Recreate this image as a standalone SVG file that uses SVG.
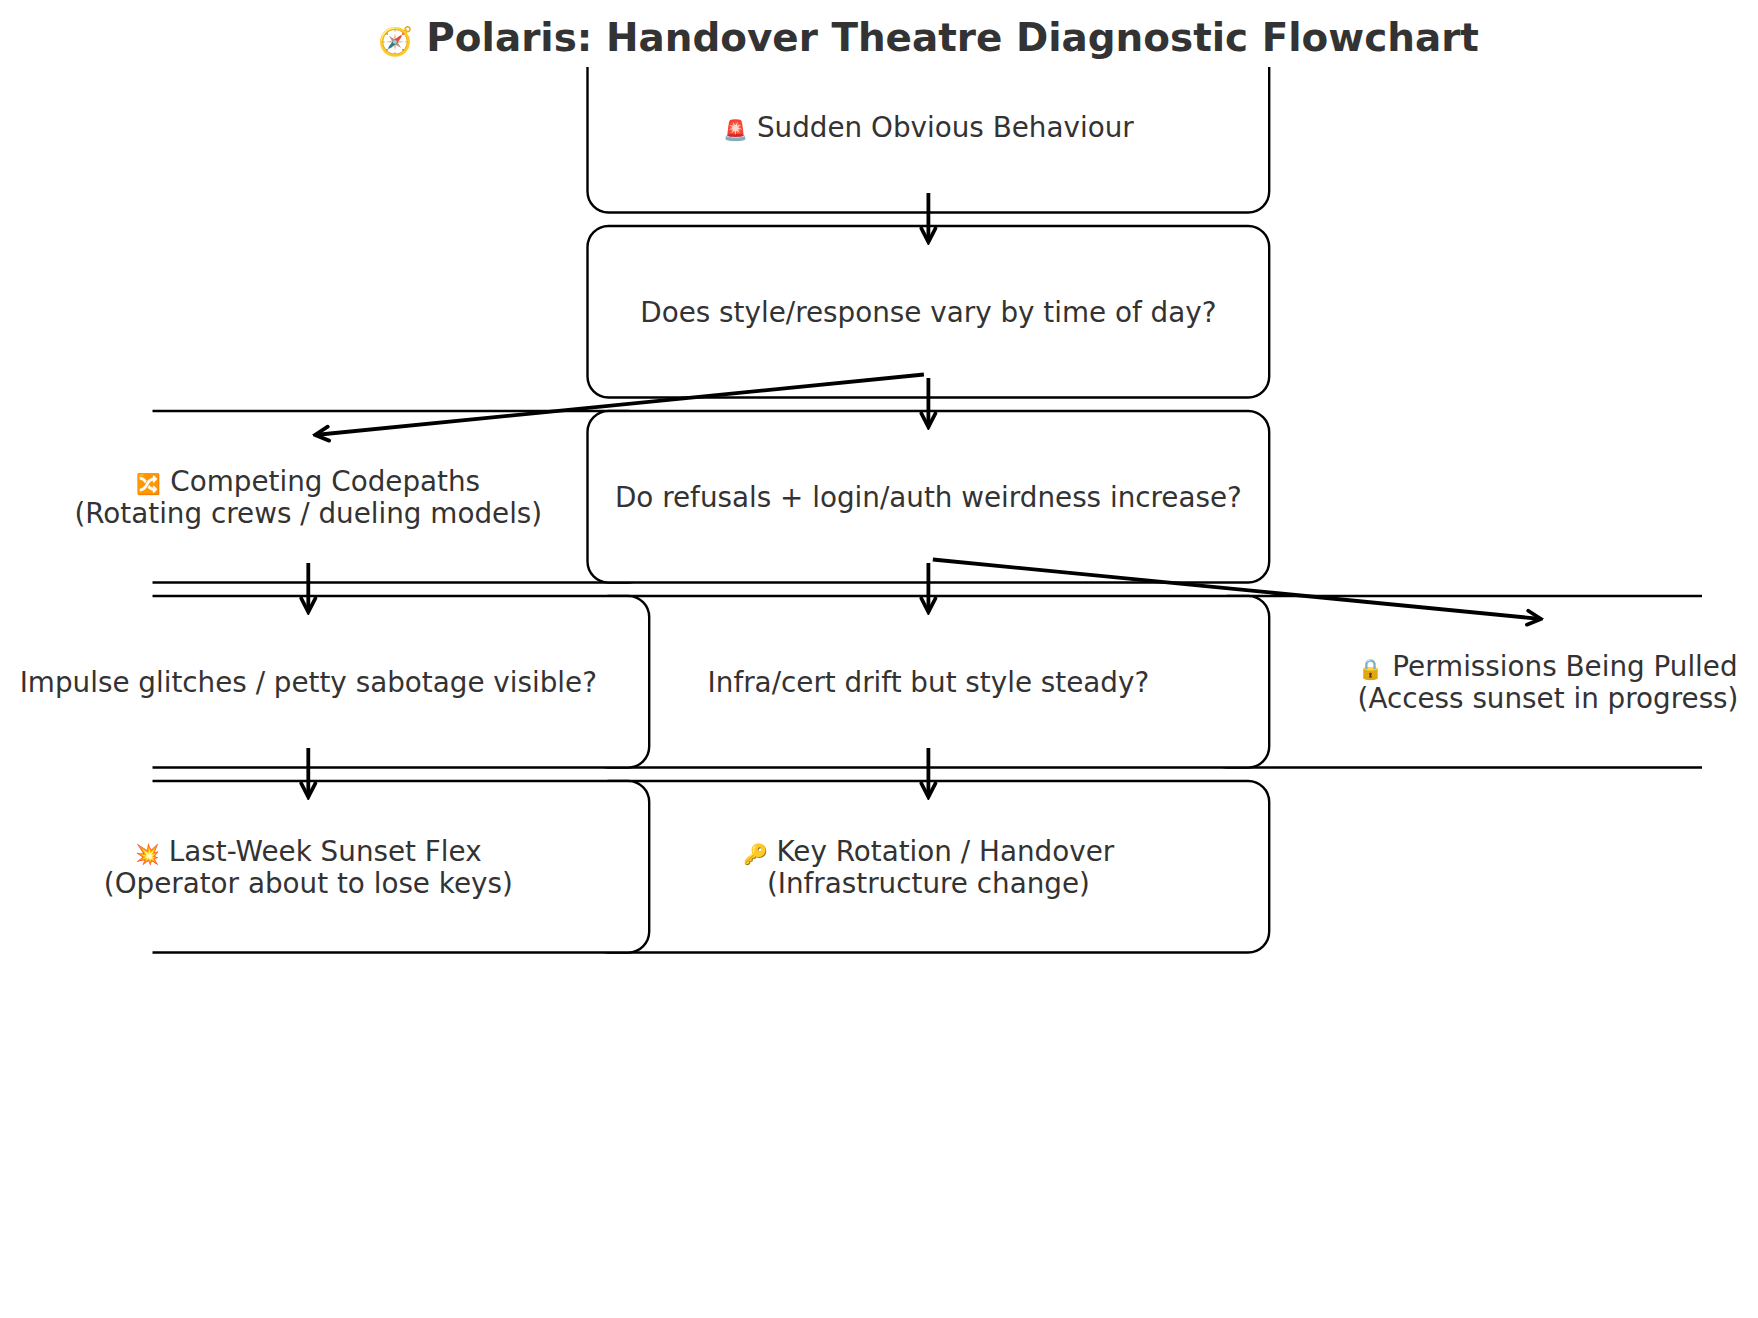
<svg xmlns="http://www.w3.org/2000/svg" width="1758" height="1318" viewBox="0 0 1758 1318">
  <style>
    .box { fill: #ffffff; stroke: #000000; stroke-width: 2.4; }
    .lbl { font-family: "DejaVu Sans", "Noto Sans", sans-serif; font-size: 27.8px; fill: #333333; text-anchor: middle; }
    .title { font-family: "DejaVu Sans", "Noto Sans", sans-serif; font-size: 38.9px; font-weight: bold; fill: #333333; text-anchor: middle; }
    .emo { font-size: 20px; }
    .emot { font-size: 28px; }
    .edge { fill: none; stroke: #000000; stroke-width: 3.8; marker-end: url(#arrow); }
  </style>
  <defs>
    <clipPath id="axes">
      <rect x="152.5" y="67" width="1549.5" height="1200"/>
    </clipPath>
    <marker id="arrow" viewBox="0 0 18 20" refX="15.5" refY="10" markerWidth="18" markerHeight="20" markerUnits="userSpaceOnUse" orient="auto">
      <path d="M2,3 L15.5,10 L2,17" fill="none" stroke="#000000" stroke-width="3.8" stroke-linejoin="miter" stroke-linecap="round"/>
    </marker>
  </defs>
  <rect width="1758" height="1318" fill="#ffffff"/>

  <text class="title" x="928.4" y="51"><tspan class="emot">🧭</tspan> Polaris: Handover Theatre Diagnostic Flowchart</text>

  <g id="node-sudden">
    <rect class="box" x="587.5" y="41" width="681.7" height="171.5" rx="21" clip-path="url(#axes)"/>
    <text class="lbl" x="928.4" y="136.7"><tspan class="emo">🚨</tspan> Sudden Obvious Behaviour</text>
  </g>
  <g id="node-timeofday">
    <rect class="box" x="587.5" y="226" width="681.7" height="171.5" rx="21" clip-path="url(#axes)"/>
    <text class="lbl" x="928.4" y="321.7">Does style/response vary by time of day?</text>
  </g>
  <g id="node-competing">
    <rect class="box" x="-32.5" y="411" width="681.7" height="171.5" rx="21" clip-path="url(#axes)"/>
    <text class="lbl" x="308.3" y="491"><tspan x="308.3"><tspan class="emo">🔀</tspan> Competing Codepaths</tspan><tspan x="308.3" dy="31.5">(Rotating crews / dueling models)</tspan></text>
  </g>
  <g id="node-refusals">
    <rect class="box" x="587.5" y="411" width="681.7" height="171.5" rx="21" clip-path="url(#axes)"/>
    <text class="lbl" x="928.4" y="506.7">Do refusals + login/auth weirdness increase?</text>
  </g>
  <g id="node-permissions">
    <rect class="box" x="1206.5" y="596" width="681.7" height="171.5" rx="21" clip-path="url(#axes)"/>
    <text class="lbl" x="1548" y="676"><tspan x="1548"><tspan class="emo">🔒</tspan> Permissions Being Pulled</tspan><tspan x="1548" dy="31.5">(Access sunset in progress)</tspan></text>
  </g>
  <g id="node-infra">
    <rect class="box" x="587.5" y="596" width="681.7" height="171.5" rx="21" clip-path="url(#axes)"/>
    <text class="lbl" x="928.4" y="691.7">Infra/cert drift but style steady?</text>
  </g>
  <g id="node-impulse">
    <rect class="box" x="-32.5" y="596" width="681.7" height="171.5" rx="21" clip-path="url(#axes)"/>
    <text class="lbl" x="308.3" y="691.7">Impulse glitches / petty sabotage visible?</text>
  </g>
  <g id="node-keyrotation">
    <rect class="box" x="587.5" y="781" width="681.7" height="171.5" rx="21" clip-path="url(#axes)"/>
    <text class="lbl" x="928.4" y="861"><tspan x="928.4"><tspan class="emo">🔑</tspan> Key Rotation / Handover</tspan><tspan x="928.4" dy="31.5">(Infrastructure change)</tspan></text>
  </g>
  <g id="node-lastweek">
    <rect class="box" x="-32.5" y="781" width="681.7" height="171.5" rx="21" clip-path="url(#axes)"/>
    <text class="lbl" x="308.3" y="861"><tspan x="308.3"><tspan class="emo">💥</tspan> Last-Week Sunset Flex</tspan><tspan x="308.3" dy="31.5">(Operator about to lose keys)</tspan></text>
  </g>

  <g id="connectors">
    <line class="edge" x1="928.4" y1="193" x2="928.4" y2="242"/>
    <line class="edge" x1="928.4" y1="378" x2="928.4" y2="427"/>
    <line class="edge" x1="923.9" y1="374.5" x2="315" y2="435"/>
    <line class="edge" x1="928.4" y1="563" x2="928.4" y2="612"/>
    <line class="edge" x1="932.8" y1="559.5" x2="1541" y2="619"/>
    <line class="edge" x1="308.3" y1="563" x2="308.3" y2="612"/>
    <line class="edge" x1="308.3" y1="748" x2="308.3" y2="797"/>
    <line class="edge" x1="928.4" y1="748" x2="928.4" y2="797"/>
  </g>
</svg>
